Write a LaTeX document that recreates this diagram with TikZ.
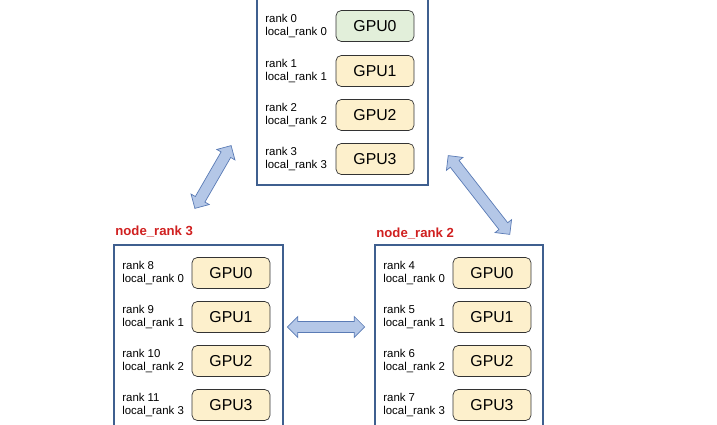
\documentclass[tikz,border=0pt]{standalone}
\usepackage{fontspec}
\setmainfont{Liberation Sans}
\usetikzlibrary{positioning, shapes.arrows}
\definecolor{gpuyel}{HTML}{FDF0CC}
\definecolor{gpugrn}{HTML}{E2EFDA}
\definecolor{boxblue}{HTML}{3F5F8F}
\definecolor{arrfill}{HTML}{B4C7E7}
\definecolor{arrline}{HTML}{5A7BB5}
\definecolor{lblred}{HTML}{D02020}
\begin{document}
\begin{tikzpicture}[x=0.02cm, y=-0.02cm]
		\tikzstyle{gpu} = [draw=black!80, fill=gpuyel, rounded corners=3pt, minimum width=1.56cm, minimum height=0.62cm, font=\fontsize{9}{10}\selectfont]
		\tikzstyle{rk} = [anchor=west, align=left, inner sep=0pt, font=\fontsize{6.5}{7.8}\selectfont]
		\tikzstyle{nd} = [draw=boxblue, thick]
		\tikzstyle{link} = [double arrow, draw=arrline, fill=arrfill, minimum height=1.45cm, minimum width=0.42cm, double arrow head extend=0.06cm, inner sep=0.6mm]
		\useasboundingbox (0,0) rectangle (717,425);
		\clip (0,0) rectangle (717,425);
		% machine boxes
		\draw[nd] (257,-5) rectangle (428,185);
		\draw[nd] (114,245) rectangle (283,440);
		\draw[nd] (375,245) rectangle (543,440);
		\node[text=lblred, font=\fontsize{7.5}{9}\selectfont\bfseries, anchor=west, inner sep=0pt] (nr3) at (115,232) {node\_rank 3};
		\node[text=lblred, font=\fontsize{7.5}{9}\selectfont\bfseries, anchor=west, inner sep=0pt] (nr2) at (376,234) {node\_rank 2};
		% top machine
		\foreach \i/\y in {0/26,1/71,2/115,3/159} {
			\node[rk] (ta\i) at (265,\y) {rank \i\\local\_rank \i};
		}
		\node[gpu, fill=gpugrn] (tg0) at (375,26) {GPU0};
		\foreach \i/\y in {1/71,2/115,3/159} {
			\node[gpu] (tg\i) at (375,\y) {GPU\i};
		}
		% left machine
		\foreach \i/\r/\y in {0/8/273,1/9/317,2/10/361,3/11/405} {
			\node[rk] (la\i) at (122,\y) {rank \r\\local\_rank \i};
			\node[gpu] (lg\i) at (231,\y) {GPU\i};
		}
		% right machine
		\foreach \i/\r/\y in {0/4/273,1/5/317,2/6/361,3/7/405} {
			\node[rk] (ra\i) at (383,\y) {rank \r\\local\_rank \i};
			\node[gpu] (rg\i) at (492,\y) {GPU\i};
		}
		% links
		\node[link, rotate=60] (lt) at (213,177) {};
		\node[link, rotate=-52, minimum height=2cm] (rt) at (479,195) {};
		\node[link, minimum height=1.55cm] (lr) at (326,327) {};
\end{tikzpicture}
\end{document}
